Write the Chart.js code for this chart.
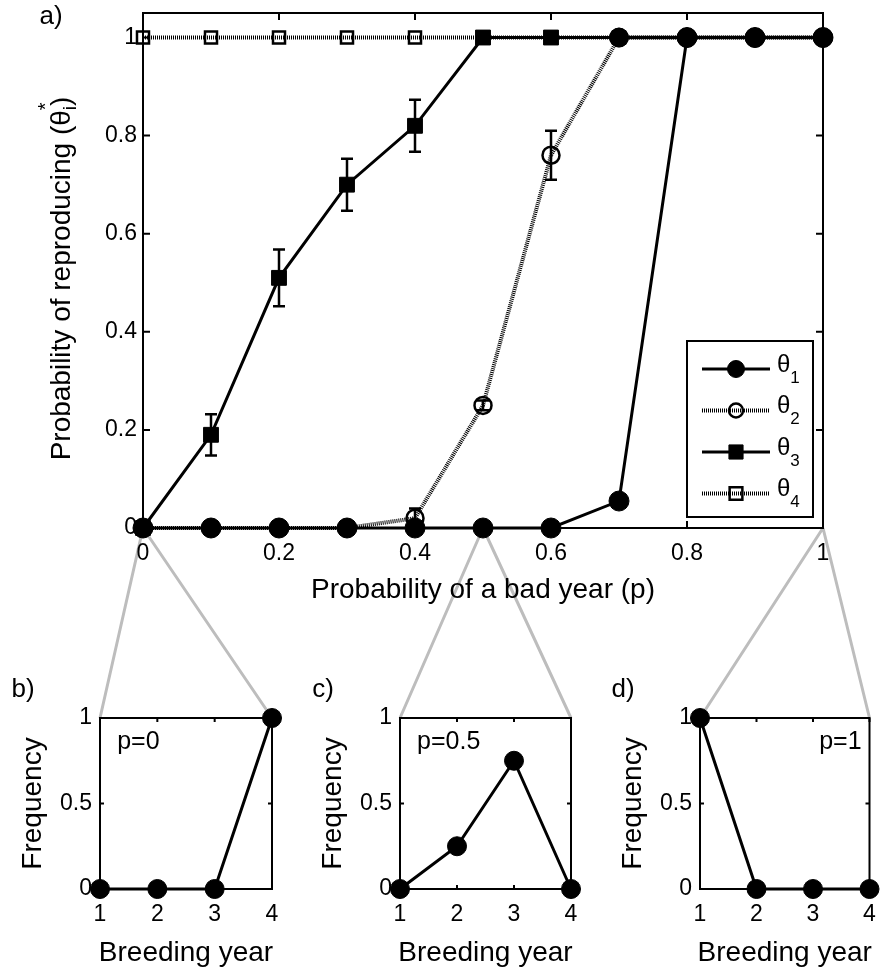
<!DOCTYPE html>
<html>
<head>
<meta charset="utf-8">
<script src="https://cdn.jsdelivr.net/npm/chart.js@4.4.1/dist/chart.umd.min.js"></script>
<style>
body{margin:0;background:#fff;width:880px;height:973px;position:relative;overflow:hidden}
canvas{position:absolute}
</style>
</head>
<body>
<canvas id="zoomLines" width="880" height="973" style="left:0;top:0"></canvas>
<canvas id="mainChart" width="880" height="620" style="left:0;top:0"></canvas>
<canvas id="chartB" width="290" height="313" style="left:0;top:660px"></canvas>
<canvas id="chartC" width="290" height="313" style="left:300px;top:660px"></canvas>
<canvas id="chartD" width="290" height="313" style="left:590px;top:660px"></canvas>
<script>
// main panel: probability of reproducing vs probability of a bad year
const pValues=[0,0.1,0.2,0.3,0.4,0.5,0.6,0.7,0.8,0.9,1]
const theta1=[0,0,0,0,0,0,0,0.055,1,1,1]
const theta2=[0,0,0,0,0.02,0.25,0.76,1,1,1,1]
const theta3=[0,0.19,0.51,0.70,0.82,1,1,1,1,1,1]
const theta4=[1,1,1,1,1,1,1,1,1,1,1]
const theta2Err=[0,0,0,0,0.02,0.01,0.05,0,0,0,0]
const theta3Err=[0,0.042,0.058,0.053,0.053,0,0,0,0,0,0]
const seriesSubs=['1','2','3','4']
const xTicks=[0,0.2,0.4,0.6,0.8,1]
const yTicks=[0,0.2,0.4,0.6,0.8,1]

// small panels: frequency vs breeding year
const years=[1,2,3,4]
const freqTicks=[0,0.5,1]
const panelP=[0,0.5,1]
const freqP0=[0,0,0,1]
const freqP05=[0,0.25,0.75,0]
const freqP1=[1,0,0,0]

const FONT='"Liberation Sans", Arial, Helvetica, sans-serif'
Chart.defaults.font.family=FONT
Chart.defaults.color='#000'

function pts(xs,ys){return xs.map((x,i)=>({x:x,y:ys[i]}))}

function axis(min,max,ticks,pad,fit){
return {
type:'linear',min:min,max:max,
grid:{display:false,drawTicks:false},
border:{display:false},
afterBuildTicks:s=>{s.ticks=ticks.map(v=>({value:v}))},
afterFit:s=>{fit(s);s.paddingTop=0;s.paddingBottom=0;s.paddingLeft=0;s.paddingRight=0},
ticks:{padding:pad,font:{size:23},color:'#000',maxRotation:0,autoSkip:false,callback:v=>String(v)}
}
}

// box round the plot with inward ticks on all four sides
function frameBox(tickLen){
return {id:'frameBox',beforeDatasetsDraw(chart){
const ctx=chart.ctx,a=chart.chartArea,xs=chart.scales.x,ys=chart.scales.y
ctx.save()
ctx.strokeStyle='#000';ctx.lineWidth=2
ctx.strokeRect(a.left,a.top,a.right-a.left,a.bottom-a.top)
ctx.beginPath()
xs.ticks.forEach(t=>{
const px=xs.getPixelForValue(t.value)
ctx.moveTo(px,a.bottom);ctx.lineTo(px,a.bottom-tickLen)
ctx.moveTo(px,a.top);ctx.lineTo(px,a.top+tickLen)
})
ys.ticks.forEach(t=>{
const py=ys.getPixelForValue(t.value)
ctx.moveTo(a.left,py);ctx.lineTo(a.left+tickLen,py)
ctx.moveTo(a.right,py);ctx.lineTo(a.right-tickLen,py)
})
ctx.stroke()
ctx.restore()
}}
}

// text in pieces so sub/superscripts can be shifted
function drawText(ctx,segs,cx,cy,rot,align){
ctx.save()
ctx.translate(cx,cy)
if(rot) ctx.rotate(-Math.PI/2)
let w=0
segs.forEach(s=>{ctx.font=s.size+'px '+FONT;s.w=ctx.measureText(s.t).width;if(!s.noAdv) w+=s.w})
let x=align==='left'?0:align==='right'?-w:-w/2
ctx.fillStyle='#000'
ctx.textBaseline='middle'
ctx.textAlign='left'
segs.forEach(s=>{
ctx.font=s.size+'px '+FONT
ctx.fillText(s.t,x,s.dy||0)
if(!s.noAdv) x+=s.w
})
ctx.restore()
}

function drawMarker(ctx,style,r,fill,stroke,lw,x,y){
ctx.beginPath()
if(style==='rect'){const s=r*Math.SQRT1_2;ctx.rect(x-s,y-s,2*s,2*s)}
else ctx.arc(x,y,r,0,Math.PI*2)
if(fill&&fill!=='transparent'){ctx.fillStyle=fill;ctx.fill()}
ctx.lineWidth=lw;ctx.strokeStyle=stroke;ctx.stroke()
}

const errorBars={id:'errorBars',afterDatasetsDraw(chart){
const ctx=chart.ctx,xs=chart.scales.x,ys=chart.scales.y
ctx.save()
ctx.strokeStyle='#000';ctx.lineWidth=2.5
;[[theta2,theta2Err],[theta3,theta3Err]].forEach(([vals,errs])=>{
pValues.forEach((p,i)=>{
if(!errs[i]) return
const px=xs.getPixelForValue(p)
const hi=ys.getPixelForValue(vals[i]+errs[i])
const lo=ys.getPixelForValue(vals[i]-errs[i])
ctx.beginPath()
ctx.moveTo(px,hi);ctx.lineTo(px,lo)
ctx.moveTo(px-6,hi);ctx.lineTo(px+6,hi)
ctx.moveTo(px-6,lo);ctx.lineTo(px+6,lo)
ctx.stroke()
})
})
ctx.restore()
}}

const mainDecor={id:'mainDecor',afterDraw(chart){
const ctx=chart.ctx,a=chart.chartArea
drawText(ctx,[{t:'a)',size:26}],a.left-92,a.top+4,false)
drawText(ctx,[{t:'Probability of a bad year (p)',size:28}],(a.left+a.right)/2,a.bottom+62,false)
drawText(ctx,[
{t:'Probability of reproducing (θ',size:28},
{t:'*',size:20,dy:-16,noAdv:true},
{t:'i',size:19,dy:9},
{t:')',size:28}
],a.left-81,(a.top+a.bottom)/2+8,true)

// legend
const L=a.right-136,R=a.right-10,T=a.bottom-187,B=a.bottom-11
ctx.save()
ctx.fillStyle='#fff';ctx.fillRect(L,T,R-L,B-T)
ctx.strokeStyle='#000';ctx.lineWidth=2;ctx.strokeRect(L,T,R-L,B-T)
chart.data.datasets.forEach((ds,i)=>{
const y=T+28+i*41.5
ctx.save()
ctx.strokeStyle=ds.borderColor;ctx.lineWidth=ds.borderWidth
ctx.setLineDash(ds.borderDash||[])
ctx.beginPath();ctx.moveTo(L+15,y);ctx.lineTo(L+83,y);ctx.stroke()
ctx.restore()
const st=Array.isArray(ds.pointStyle)?ds.pointStyle[0]:ds.pointStyle
drawMarker(ctx,st,ds.legendRadius,ds.pointBackgroundColor,ds.pointBorderColor,ds.pointBorderWidth,L+49,y)
drawText(ctx,[{t:'θ',size:24,dy:-4},{t:seriesSubs[i],size:17,dy:9}],L+90,y,false,'left')
})
ctx.restore()
}}

// θ3 marker turns round from p=0.7 on, as in the figure
const theta3Style=pValues.map(p=>p>0.65?'circle':'rect')
const theta3Radius=pValues.map(p=>p>0.65?9.5:10.5)

const mainChart=new Chart(document.getElementById('mainChart'),{
type:'line',
data:{datasets:[
{label:'θ1',data:pts(pValues,theta1),order:0,borderColor:'#000',borderWidth:3,tension:0,clip:false,
pointStyle:'circle',pointRadius:10,legendRadius:8.5,pointBackgroundColor:'#000',pointBorderColor:'#000',pointBorderWidth:1},
{label:'θ2',data:pts(pValues,theta2),order:2,borderColor:'#000',borderWidth:4,borderDash:[1,1],tension:0,clip:false,
pointStyle:'circle',pointRadius:8.5,legendRadius:7,pointBackgroundColor:'transparent',pointBorderColor:'#000',pointBorderWidth:2.5},
{label:'θ3',data:pts(pValues,theta3),order:1,borderColor:'#000',borderWidth:3,tension:0,clip:false,
pointStyle:theta3Style,pointRadius:theta3Radius,legendRadius:10,pointBackgroundColor:'#000',pointBorderColor:'#000',pointBorderWidth:1},
{label:'θ4',data:pts(pValues,theta4),order:3,borderColor:'#000',borderWidth:4,borderDash:[1,1],tension:0,clip:false,
pointStyle:'rect',pointRadius:8.5,legendRadius:9,pointBackgroundColor:'transparent',pointBorderColor:'#000',pointBorderWidth:2.5}
]},
options:{
responsive:false,animation:false,
layout:{padding:{top:13,right:57,left:0,bottom:0}},
plugins:{legend:{display:false},tooltip:{enabled:false}},
scales:{
x:axis(0,1,xTicks,12,s=>{s.height=92}),
y:axis(0,1.05,yTicks,6,s=>{s.width=143})
}
},
plugins:[frameBox(7),errorBars,mainDecor]
})

const panels=[
{id:'chartB',label:'b)',values:freqP0,p:panelP[0],left:0,top:660,axisW:100,padR:18,textX:1.3,align:'left'},
{id:'chartC',label:'c)',values:freqP05,p:panelP[1],left:300,top:660,axisW:100,padR:19,textX:1.3,align:'left'},
{id:'chartD',label:'d)',values:freqP1,p:panelP[2],left:590,top:660,axisW:110,padR:7,textX:3.86,align:'right'}
]

const smallCharts=panels.map(pn=>{
const decor={id:'panelDecor',afterDraw(chart){
const ctx=chart.ctx,a=chart.chartArea
drawText(ctx,[{t:pn.label,size:26}],a.left-77,a.top-28,false)
drawText(ctx,[{t:'Frequency',size:28}],a.left-67,(a.top+a.bottom)/2,true)
drawText(ctx,[{t:'Breeding year',size:28}],(a.left+a.right)/2,a.bottom+64,false)
drawText(ctx,[{t:'p='+pn.p,size:25}],chart.scales.x.getPixelForValue(pn.textX),chart.scales.y.getPixelForValue(0.86),false,pn.align)
}}
return new Chart(document.getElementById(pn.id),{
type:'line',
data:{datasets:[{data:pts(years,pn.values),borderColor:'#000',borderWidth:3,tension:0,clip:false,
pointStyle:'circle',pointRadius:9.5,pointBackgroundColor:'#000',pointBorderColor:'#000',pointBorderWidth:1}]},
options:{
responsive:false,animation:false,
layout:{padding:{top:58,right:pn.padR,left:0,bottom:0}},
plugins:{legend:{display:false},tooltip:{enabled:false}},
scales:{
x:axis(1,4,years,12,s=>{s.height=84}),
y:axis(0,1,freqTicks,8,s=>{s.width=pn.axisW})
}
},
plugins:[frameBox(4),decor]
})
})

// grey zoom lines from the main x axis down to each small panel
const ov=document.getElementById('zoomLines').getContext('2d')
ov.strokeStyle='#bdbdbd'
ov.lineWidth=3
panels.forEach((pn,i)=>{
const a=smallCharts[i].chartArea
const ox=mainChart.scales.x.getPixelForValue(pn.p),oy=mainChart.chartArea.bottom
ov.beginPath()
ov.moveTo(ox,oy);ov.lineTo(pn.left+a.left,pn.top+a.top)
ov.moveTo(ox,oy);ov.lineTo(pn.left+a.right,pn.top+a.top)
ov.stroke()
})
</script>
</body>
</html>
